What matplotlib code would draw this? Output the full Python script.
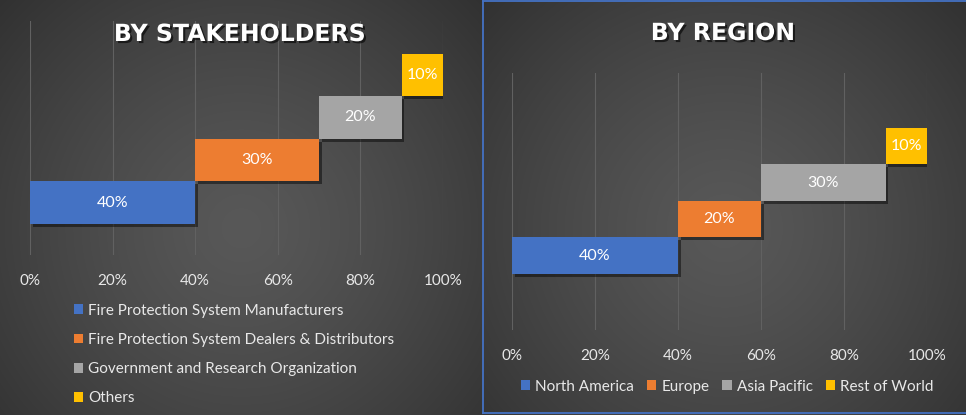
"""
Stakeholder / region share charts, two panels on dark background
"""

# %%
import numpy as np
import matplotlib.pyplot as plt
import matplotlib.patheffects as pe
from matplotlib.patches import Patch
from matplotlib.lines import Line2D

# %%
# data
stake_labels = ["Fire Protection System Manufacturers",
                "Fire Protection System Dealers & Distributors",
                "Government and Research Organization",
                "Others"]
stake_share = [40, 30, 20, 10]

region_labels = ["North America", "Europe", "Asia Pacific", "Rest of World"]
region_share = [40, 20, 30, 10]

colors = ["#4472C4", "#ED7D31", "#A5A5A5", "#FFC000"]
tick_vals = [0, 20, 40, 60, 80, 100]

# %%
W, H = 966, 415
plt.rcParams["font.family"] = ["Lato", "DejaVu Sans"]
fig = plt.figure(figsize=(W / 100, H / 100), dpi=100)
fig.patch.set_facecolor("#3a3a3a")


def px_rect(x0, y0, x1, y1):
    """pixel box (top-left origin) -> figure fraction rect"""
    return [x0 / W, 1 - y1 / H, (x1 - x0) / W, (y1 - y0) / H]


def radial_bg(x0, x1):
    ax = fig.add_axes(px_rect(x0, 0, x1, H), zorder=0)
    nx, ny = int(x1 - x0), H
    xx, yy = np.meshgrid(np.arange(nx), np.arange(ny))
    cx, cy = nx / 2, ny * 0.55
    r = np.hypot(xx - cx, yy - cy) / np.hypot(nx / 2, ny * 0.6)
    t = np.clip(r, 0, 1) ** 1.3
    inner, outer = 0x58 / 255, 0x2f / 255
    g = inner + (outer - inner) * t
    img = np.dstack([g, g, g])
    ax.imshow(img, aspect="auto", interpolation="bilinear")
    ax.set_axis_off()


radial_bg(0, 482)
radial_bg(483, W)

shadow = [pe.SimplePatchShadow(offset=(2, -2), shadow_rgbFace="black", alpha=0.45), pe.Normal()]


def draw_panel(box, shares, ylo, yhi, title, title_xy):
    ax = fig.add_axes(px_rect(*box), zorder=2)
    ax.patch.set_alpha(0)
    starts = np.concatenate([[0], np.cumsum(shares)[:-1]])
    ypos = np.arange(len(shares))
    bars = ax.barh(ypos, shares, left=starts, height=1.0, color=colors, zorder=3)
    for b in bars:
        b.set_path_effects(shadow)
    for y, s, w in zip(ypos, starts, shares):
        ax.text(s + w / 2, y, f"{w}%", ha="center", va="center",
                color="white", fontsize=11.5, zorder=4)
    ax.set_xlim(0, 100)
    ax.set_ylim(ylo, yhi)
    ax.set_xticks(tick_vals)
    ax.set_xticklabels([f"{v}%" for v in tick_vals], color="#e8e8e8", fontsize=11)
    ax.set_yticks([])
    ax.tick_params(axis="x", length=0, pad=14)
    ax.grid(axis="x", color="#616161", linewidth=0.8, zorder=1)
    for sp in ax.spines.values():
        sp.set_visible(False)
    fig.text(title_xy[0] / W, 1 - title_xy[1] / H, title, ha="center", va="center",
             color="white", fontsize=17, fontweight="bold", family="DejaVu Sans",
             zorder=5,
             path_effects=[pe.withSimplePatchShadow(offset=(1.5, -1.5),
                                                    shadow_rgbFace="black", alpha=0.6)])
    return ax


draw_panel((30, 21, 443, 255), stake_share, -1.235, 4.27, "BY STAKEHOLDERS", (240, 34))
draw_panel((512, 73, 927, 330), region_share, -2.035, 5.005, "BY REGION", (723, 33))

# legends
stake_handles = [Patch(facecolor=c, edgecolor="none") for c in colors]
leg1 = fig.legend(stake_handles, stake_labels, loc="center left",
                  bbox_to_anchor=(74 / W, 1 - 354.5 / H), ncol=1, frameon=False,
                  fontsize=11, handlelength=0.62, handleheight=0.62,
                  handletextpad=0.32, labelspacing=1.0, labelcolor="#e8e8e8",
                  borderpad=0, borderaxespad=0)

region_handles = [Patch(facecolor=c, edgecolor="none") for c in colors]
leg2 = fig.legend(region_handles, region_labels, loc="center",
                  bbox_to_anchor=(727 / W, 1 - 386.7 / H), ncol=4, frameon=False,
                  fontsize=11, handlelength=0.62, handleheight=0.62,
                  handletextpad=0.32, columnspacing=0.85, labelcolor="#e8e8e8",
                  borderpad=0, borderaxespad=0)

# panel border (right panel, open on the right side)
bc = "#4472C4"
fig.add_artist(Line2D([482.5 / W, 482.5 / W], [1 - 1.5 / H, 1 - 412.5 / H], color=bc, lw=1.3, zorder=6))
fig.add_artist(Line2D([482.5 / W, 1], [1 - 1.5 / H, 1 - 1.5 / H], color=bc, lw=1.3, zorder=6))
fig.add_artist(Line2D([482.5 / W, 1], [1 - 412.5 / H, 1 - 412.5 / H], color=bc, lw=1.3, zorder=6))

fig.savefig("out.png", dpi=100, facecolor=fig.get_facecolor())
